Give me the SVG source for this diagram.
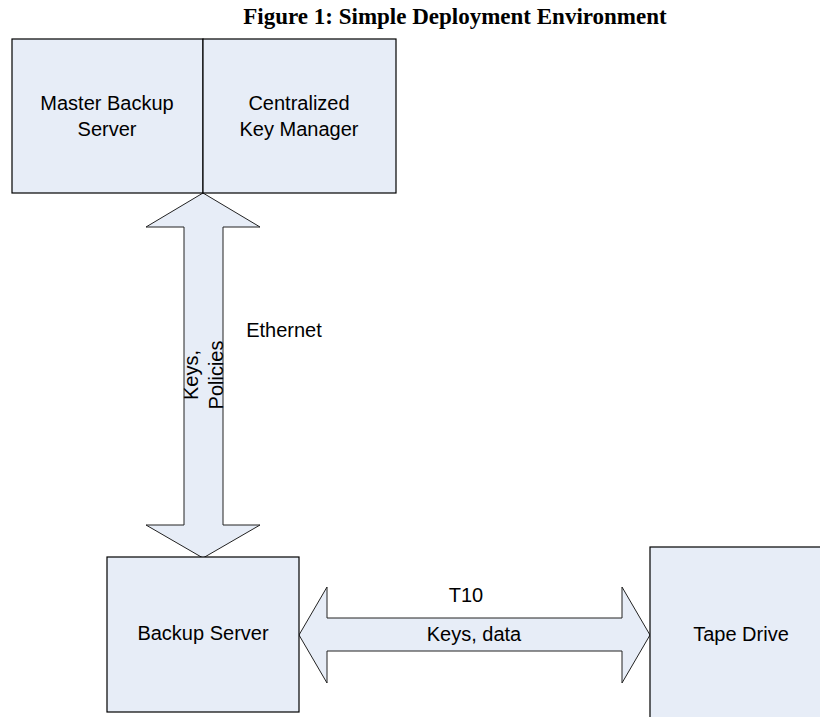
<svg xmlns="http://www.w3.org/2000/svg" width="820" height="717" viewBox="0 0 820 717">
<style>
.box{fill:#E7EDF7;stroke:#000;stroke-width:1.2}
.arr{fill:#E7EDF7;stroke:#222;stroke-width:1}
.t{font-family:"Liberation Sans",Arial,sans-serif;font-size:20px;fill:#000;text-anchor:middle}
.title{font-family:"Liberation Serif","Times New Roman",serif;font-size:23px;font-weight:bold;fill:#000;text-anchor:middle}
</style>
<rect width="820" height="717" fill="#fff"/>
<text class="title" x="455" y="24">Figure 1: Simple Deployment Environment</text>
<g id="connectors">
<polygon class="arr" points="203,193 146,227 184,227 184,525 146,525 203,558 260,525 223,525 223,227 260,227"/>
<polygon class="arr" points="299,635 327,587 327,618 622,618 622,587 650,635 622,683 622,651 327,651 327,683"/>
<text class="t" x="284" y="337">Ethernet</text>
<text class="t" transform="translate(198,375) rotate(-90)" x="0" y="0">Keys,</text>
<text class="t" transform="translate(223,375) rotate(-90)" x="0" y="0">Policies</text>
<text class="t" x="466" y="602">T10</text>
<text class="t" x="474" y="641">Keys, data</text>
</g>
<g id="master-backup-server">
<rect class="box" x="12" y="39" width="191" height="154"/>
<text class="t" x="107" y="110">Master Backup</text>
<text class="t" x="107" y="136">Server</text>
</g>
<g id="centralized-key-manager">
<rect class="box" x="203" y="39" width="193" height="154"/>
<text class="t" x="299" y="110">Centralized</text>
<text class="t" x="299" y="136">Key Manager</text>
</g>
<g id="backup-server">
<rect class="box" x="107" y="557" width="192" height="155"/>
<text class="t" x="203" y="640">Backup Server</text>
</g>
<g id="tape-drive">
<rect class="box" x="650" y="547" width="190" height="190"/>
<text class="t" x="741" y="641">Tape Drive</text>
</g>
</svg>
